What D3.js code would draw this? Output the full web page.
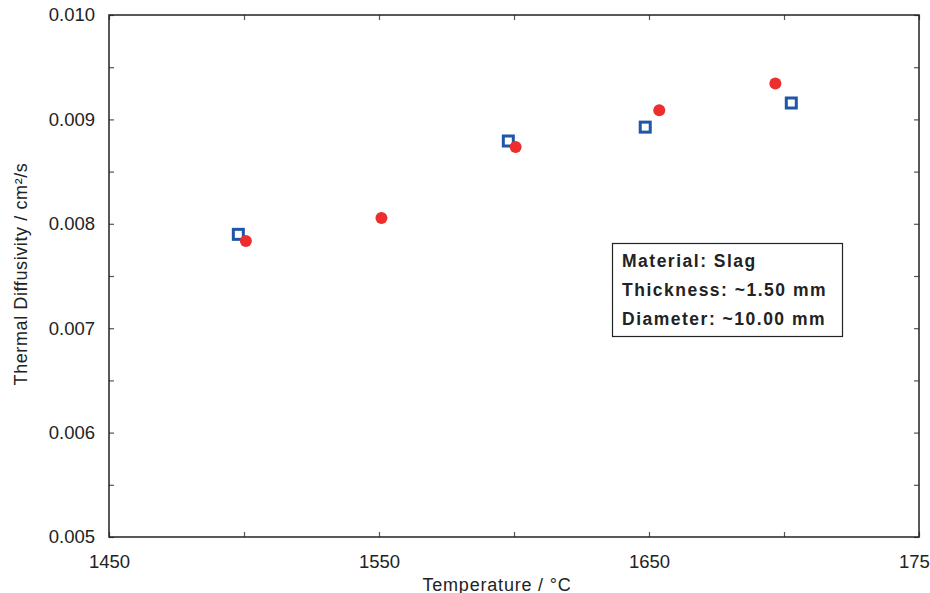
<!DOCTYPE html>
<html>
<head>
<meta charset="utf-8">
<script src="https://cdn.jsdelivr.net/npm/d3@7"></script>
<style>
  body { margin: 0; background: #fff; overflow: hidden; }
  svg { display: block; font-family: "Liberation Sans", Arial, sans-serif; }
</style>
</head>
<body>
<div id="chart"></div>
<script>
const squareTemps = [1497.9, 1597.9, 1648.6, 1702.7];
const squareDiff = [0.007899, 0.008793, 0.008926, 0.009157];
const circleTemps = [1500.7, 1550.9, 1600.6, 1653.8, 1696.8];
const circleDiff = [0.007835, 0.008056, 0.008735, 0.009087, 0.009343];
const xLabelTicks = [1450, 1550, 1650, 1750];
const yLabelTicks = [0.005, 0.006, 0.007, 0.008, 0.009, 0.010];
const infoLines = ['Material: Slag', 'Thickness: ~1.50 mm', 'Diameter: ~10.00 mm'];

const width = 930, height = 593;
const margin = {top: 15, right: 11, bottom: 56, left: 109};
const w = width - margin.left - margin.right;
const h = height - margin.top - margin.bottom;

const svg = d3.select('#chart').append('svg')
  .attr('width', width).attr('height', height);

const g = svg.append('g').attr('transform', `translate(${margin.left},${margin.top})`);

const x = d3.scaleLinear().domain([1450, 1750]).range([0, w]);
const y = d3.scaleLinear().domain([0.005, 0.010]).range([h, 0]);

const xTicks = d3.range(1450, 1751, 50);
const yTicks = d3.range(0, 11).map(i => 0.005 + i * 0.0005);

const fmtX = d => xLabelTicks.includes(d) ? d : '';
const fmtY = d => yLabelTicks.some(v => Math.abs(v - d) < 1e-9) ? d3.format('.3f')(d) : '';

const styleAxis = (sel) => {
  sel.select('.domain').remove();
  sel.selectAll('.tick line').attr('stroke', '#555').attr('stroke-width', 1.2);
  sel.selectAll('text').attr('fill', '#222').style('font-size', '18.5px');
};

g.append('g').attr('transform', `translate(0,${h})`)
  .call(d3.axisBottom(x).tickValues(xTicks).tickSize(-5).tickPadding(18).tickFormat(fmtX))
  .call(styleAxis);
g.append('g')
  .call(d3.axisTop(x).tickValues(xTicks).tickSize(-5).tickFormat(''))
  .call(styleAxis);
g.append('g')
  .call(d3.axisLeft(y).tickValues(yTicks).tickSize(-5).tickPadding(14).tickFormat(fmtY))
  .call(styleAxis);
g.append('g').attr('transform', `translate(${w},0)`)
  .call(d3.axisRight(y).tickValues(yTicks).tickSize(-5).tickFormat(''))
  .call(styleAxis);

g.append('rect')
  .attr('width', w).attr('height', h)
  .attr('fill', 'none').attr('stroke', '#222').attr('stroke-width', 1.5);

// data
const squares = squareTemps.map((t, i) => ({t, v: squareDiff[i]}));
const circles = circleTemps.map((t, i) => ({t, v: circleDiff[i]}));

g.selectAll('.sq').data(squares).enter().append('rect')
  .attr('class', 'sq')
  .attr('x', d => x(d.t) - 5).attr('y', d => y(d.v) - 5)
  .attr('width', 10).attr('height', 10)
  .attr('fill', '#fff').attr('stroke', '#1e56a8').attr('stroke-width', 3);

g.selectAll('.ci').data(circles).enter().append('circle')
  .attr('class', 'ci')
  .attr('cx', d => x(d.t)).attr('cy', d => y(d.v))
  .attr('r', 6).attr('fill', '#ee2d2d');

// info box
svg.append('rect')
  .attr('x', 612.5).attr('y', 243.5).attr('width', 230).attr('height', 93)
  .attr('fill', '#fff').attr('stroke', '#222').attr('stroke-width', 1.2);

svg.selectAll('.info').data(infoLines).enter().append('text')
  .attr('class', 'info')
  .attr('x', 622).attr('y', (d, i) => 266.5 + i * 29.3)
  .attr('fill', '#222')
  .style('font-size', '17.5px').style('font-weight', 'bold')
  .style('letter-spacing', '1.5px')
  .text(d => d);

// axis titles
svg.append('text')
  .attr('x', 497).attr('y', 591)
  .attr('text-anchor', 'middle').attr('fill', '#222')
  .style('font-size', '18px').style('letter-spacing', '0.8px')
  .text('Temperature / °C');

svg.append('text')
  .attr('transform', 'translate(27,274) rotate(-90)')
  .attr('text-anchor', 'middle').attr('fill', '#222')
  .style('font-size', '18px').style('letter-spacing', '0.6px')
  .text('Thermal Diffusivity / cm²/s');
</script>
</body>
</html>
